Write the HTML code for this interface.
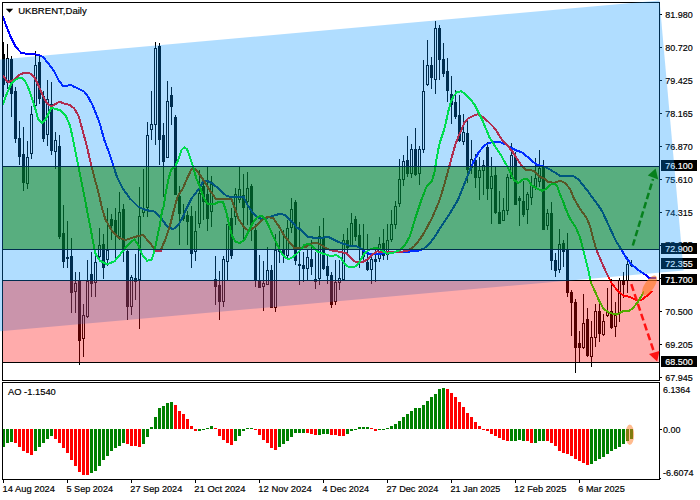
<!DOCTYPE html><html><head><meta charset="utf-8"><title>UKBRENT Daily</title>
<style>html,body{margin:0;padding:0;background:#fff;}body{width:700px;height:500px;overflow:hidden;font-family:"Liberation Sans",sans-serif;}svg{display:block}text{font-family:"Liberation Sans",sans-serif;}</style></head><body>
<svg width="700" height="500" viewBox="0 0 700 500">
<rect width="700" height="500" fill="#fff"/>
<g shape-rendering="crispEdges">
<rect x="3" y="42" width="1" height="55" fill="#000"/>
<rect x="2" y="54" width="3" height="31" fill="#000"/>
<rect x="7" y="44" width="1" height="45" fill="#000"/>
<rect x="6" y="58" width="3" height="25" fill="#000"/>
<rect x="7" y="59" width="1" height="23" fill="#fff"/>
<rect x="11" y="56" width="1" height="61" fill="#000"/>
<rect x="10" y="59" width="3" height="35" fill="#000"/>
<rect x="15" y="87" width="1" height="56" fill="#000"/>
<rect x="14" y="91" width="3" height="48" fill="#000"/>
<rect x="19" y="121" width="1" height="44" fill="#000"/>
<rect x="18" y="138" width="3" height="19" fill="#000"/>
<rect x="23" y="127" width="1" height="64" fill="#000"/>
<rect x="22" y="154" width="3" height="29" fill="#000"/>
<rect x="27" y="141" width="1" height="48" fill="#000"/>
<rect x="26" y="157" width="3" height="27" fill="#000"/>
<rect x="27" y="158" width="1" height="25" fill="#fff"/>
<rect x="31" y="106" width="1" height="53" fill="#000"/>
<rect x="30" y="114" width="3" height="40" fill="#000"/>
<rect x="31" y="115" width="1" height="38" fill="#fff"/>
<rect x="35" y="51" width="1" height="56" fill="#000"/>
<rect x="34" y="65" width="3" height="41" fill="#000"/>
<rect x="35" y="66" width="1" height="39" fill="#fff"/>
<rect x="39" y="56" width="1" height="48" fill="#000"/>
<rect x="38" y="62" width="3" height="37" fill="#000"/>
<rect x="43" y="91" width="1" height="51" fill="#000"/>
<rect x="42" y="96" width="3" height="43" fill="#000"/>
<rect x="47" y="80" width="1" height="66" fill="#000"/>
<rect x="46" y="99" width="3" height="36" fill="#000"/>
<rect x="47" y="100" width="1" height="34" fill="#fff"/>
<rect x="51" y="82" width="1" height="73" fill="#000"/>
<rect x="50" y="104" width="3" height="47" fill="#000"/>
<rect x="55" y="132" width="1" height="37" fill="#000"/>
<rect x="54" y="140" width="3" height="12" fill="#000"/>
<rect x="55" y="141" width="1" height="10" fill="#fff"/>
<rect x="59" y="135" width="1" height="104" fill="#000"/>
<rect x="58" y="146" width="3" height="91" fill="#000"/>
<rect x="63" y="205" width="1" height="63" fill="#000"/>
<rect x="62" y="233" width="3" height="29" fill="#000"/>
<rect x="67" y="221" width="1" height="47" fill="#000"/>
<rect x="66" y="257" width="3" height="2" fill="#000"/>
<rect x="71" y="238" width="1" height="75" fill="#000"/>
<rect x="70" y="256" width="3" height="37" fill="#000"/>
<rect x="75" y="272" width="1" height="41" fill="#000"/>
<rect x="74" y="283" width="3" height="9" fill="#000"/>
<rect x="75" y="284" width="1" height="7" fill="#fff"/>
<rect x="79" y="272" width="1" height="93" fill="#000"/>
<rect x="78" y="281" width="3" height="60" fill="#000"/>
<rect x="83" y="304" width="1" height="53" fill="#000"/>
<rect x="82" y="315" width="3" height="24" fill="#000"/>
<rect x="83" y="316" width="1" height="22" fill="#fff"/>
<rect x="87" y="260" width="1" height="58" fill="#000"/>
<rect x="86" y="281" width="3" height="36" fill="#000"/>
<rect x="87" y="282" width="1" height="34" fill="#fff"/>
<rect x="91" y="252" width="1" height="45" fill="#000"/>
<rect x="90" y="274" width="3" height="10" fill="#000"/>
<rect x="95" y="255" width="1" height="42" fill="#000"/>
<rect x="94" y="262" width="3" height="21" fill="#000"/>
<rect x="95" y="263" width="1" height="19" fill="#fff"/>
<rect x="99" y="228" width="1" height="30" fill="#000"/>
<rect x="98" y="245" width="3" height="12" fill="#000"/>
<rect x="99" y="246" width="1" height="10" fill="#fff"/>
<rect x="103" y="234" width="1" height="45" fill="#000"/>
<rect x="102" y="244" width="3" height="24" fill="#000"/>
<rect x="107" y="208" width="1" height="58" fill="#000"/>
<rect x="106" y="250" width="3" height="10" fill="#000"/>
<rect x="107" y="251" width="1" height="8" fill="#fff"/>
<rect x="111" y="214" width="1" height="26" fill="#000"/>
<rect x="110" y="219" width="3" height="7" fill="#000"/>
<rect x="115" y="208" width="1" height="51" fill="#000"/>
<rect x="114" y="220" width="3" height="14" fill="#000"/>
<rect x="119" y="192" width="1" height="48" fill="#000"/>
<rect x="118" y="212" width="3" height="25" fill="#000"/>
<rect x="119" y="213" width="1" height="23" fill="#fff"/>
<rect x="123" y="204" width="1" height="58" fill="#000"/>
<rect x="122" y="209" width="3" height="41" fill="#000"/>
<rect x="127" y="249" width="1" height="71" fill="#000"/>
<rect x="126" y="251" width="3" height="56" fill="#000"/>
<rect x="131" y="275" width="1" height="40" fill="#000"/>
<rect x="130" y="277" width="3" height="30" fill="#000"/>
<rect x="131" y="278" width="1" height="28" fill="#fff"/>
<rect x="135" y="254" width="1" height="46" fill="#000"/>
<rect x="134" y="278" width="3" height="4" fill="#000"/>
<rect x="139" y="187" width="1" height="142" fill="#000"/>
<rect x="138" y="216" width="3" height="64" fill="#000"/>
<rect x="139" y="217" width="1" height="62" fill="#fff"/>
<rect x="143" y="169" width="1" height="48" fill="#000"/>
<rect x="142" y="209" width="3" height="4" fill="#000"/>
<rect x="143" y="210" width="1" height="2" fill="#fff"/>
<rect x="147" y="122" width="1" height="95" fill="#000"/>
<rect x="146" y="135" width="3" height="73" fill="#000"/>
<rect x="147" y="136" width="1" height="71" fill="#fff"/>
<rect x="151" y="91" width="1" height="49" fill="#000"/>
<rect x="150" y="124" width="3" height="6" fill="#000"/>
<rect x="151" y="125" width="1" height="4" fill="#fff"/>
<rect x="155" y="42" width="1" height="103" fill="#000"/>
<rect x="154" y="48" width="3" height="77" fill="#000"/>
<rect x="155" y="49" width="1" height="75" fill="#fff"/>
<rect x="159" y="43" width="1" height="122" fill="#000"/>
<rect x="158" y="46" width="3" height="94" fill="#000"/>
<rect x="163" y="123" width="1" height="74" fill="#000"/>
<rect x="162" y="135" width="3" height="27" fill="#000"/>
<rect x="167" y="81" width="1" height="77" fill="#000"/>
<rect x="166" y="101" width="3" height="57" fill="#000"/>
<rect x="167" y="102" width="1" height="55" fill="#fff"/>
<rect x="171" y="87" width="1" height="38" fill="#000"/>
<rect x="170" y="95" width="3" height="12" fill="#000"/>
<rect x="175" y="115" width="1" height="80" fill="#000"/>
<rect x="174" y="117" width="3" height="78" fill="#000"/>
<rect x="179" y="186" width="1" height="59" fill="#000"/>
<rect x="178" y="196" width="3" height="18" fill="#000"/>
<rect x="183" y="204" width="1" height="17" fill="#000"/>
<rect x="182" y="215" width="3" height="4" fill="#000"/>
<rect x="187" y="211" width="1" height="34" fill="#000"/>
<rect x="186" y="215" width="3" height="7" fill="#000"/>
<rect x="191" y="206" width="1" height="62" fill="#000"/>
<rect x="190" y="216" width="3" height="38" fill="#000"/>
<rect x="195" y="211" width="1" height="50" fill="#000"/>
<rect x="194" y="231" width="3" height="21" fill="#000"/>
<rect x="195" y="232" width="1" height="19" fill="#fff"/>
<rect x="199" y="170" width="1" height="58" fill="#000"/>
<rect x="198" y="193" width="3" height="31" fill="#000"/>
<rect x="199" y="194" width="1" height="29" fill="#fff"/>
<rect x="203" y="182" width="1" height="38" fill="#000"/>
<rect x="202" y="186" width="3" height="16" fill="#000"/>
<rect x="207" y="167" width="1" height="64" fill="#000"/>
<rect x="206" y="194" width="3" height="25" fill="#000"/>
<rect x="211" y="176" width="1" height="51" fill="#000"/>
<rect x="210" y="184" width="3" height="28" fill="#000"/>
<rect x="211" y="185" width="1" height="26" fill="#fff"/>
<rect x="215" y="256" width="1" height="49" fill="#000"/>
<rect x="214" y="279" width="3" height="8" fill="#000"/>
<rect x="219" y="271" width="1" height="49" fill="#000"/>
<rect x="218" y="285" width="3" height="17" fill="#000"/>
<rect x="223" y="256" width="1" height="51" fill="#000"/>
<rect x="222" y="259" width="3" height="43" fill="#000"/>
<rect x="223" y="260" width="1" height="41" fill="#fff"/>
<rect x="227" y="224" width="1" height="57" fill="#000"/>
<rect x="226" y="224" width="3" height="38" fill="#000"/>
<rect x="227" y="225" width="1" height="36" fill="#fff"/>
<rect x="231" y="208" width="1" height="51" fill="#000"/>
<rect x="230" y="218" width="3" height="38" fill="#000"/>
<rect x="235" y="188" width="1" height="37" fill="#000"/>
<rect x="234" y="194" width="3" height="23" fill="#000"/>
<rect x="235" y="195" width="1" height="21" fill="#fff"/>
<rect x="239" y="167" width="1" height="36" fill="#000"/>
<rect x="238" y="189" width="3" height="11" fill="#000"/>
<rect x="239" y="190" width="1" height="9" fill="#fff"/>
<rect x="243" y="174" width="1" height="66" fill="#000"/>
<rect x="242" y="195" width="3" height="13" fill="#000"/>
<rect x="247" y="172" width="1" height="53" fill="#000"/>
<rect x="246" y="188" width="3" height="14" fill="#000"/>
<rect x="247" y="189" width="1" height="12" fill="#fff"/>
<rect x="251" y="184" width="1" height="57" fill="#000"/>
<rect x="250" y="186" width="3" height="39" fill="#000"/>
<rect x="255" y="224" width="1" height="63" fill="#000"/>
<rect x="254" y="230" width="3" height="51" fill="#000"/>
<rect x="259" y="255" width="1" height="33" fill="#000"/>
<rect x="258" y="281" width="3" height="7" fill="#000"/>
<rect x="263" y="261" width="1" height="50" fill="#000"/>
<rect x="262" y="283" width="3" height="4" fill="#000"/>
<rect x="263" y="284" width="1" height="2" fill="#fff"/>
<rect x="267" y="247" width="1" height="38" fill="#000"/>
<rect x="266" y="270" width="3" height="15" fill="#000"/>
<rect x="267" y="271" width="1" height="13" fill="#fff"/>
<rect x="271" y="265" width="1" height="43" fill="#000"/>
<rect x="270" y="270" width="3" height="38" fill="#000"/>
<rect x="275" y="234" width="1" height="78" fill="#000"/>
<rect x="274" y="250" width="3" height="58" fill="#000"/>
<rect x="275" y="251" width="1" height="56" fill="#fff"/>
<rect x="279" y="231" width="1" height="32" fill="#000"/>
<rect x="278" y="250" width="3" height="2" fill="#000"/>
<rect x="283" y="230" width="1" height="33" fill="#000"/>
<rect x="282" y="250" width="3" height="6" fill="#000"/>
<rect x="287" y="220" width="1" height="39" fill="#000"/>
<rect x="286" y="228" width="3" height="28" fill="#000"/>
<rect x="287" y="229" width="1" height="26" fill="#fff"/>
<rect x="291" y="198" width="1" height="35" fill="#000"/>
<rect x="290" y="209" width="3" height="19" fill="#000"/>
<rect x="291" y="210" width="1" height="17" fill="#fff"/>
<rect x="295" y="200" width="1" height="65" fill="#000"/>
<rect x="294" y="202" width="3" height="59" fill="#000"/>
<rect x="299" y="222" width="1" height="63" fill="#000"/>
<rect x="298" y="264" width="3" height="2" fill="#000"/>
<rect x="303" y="252" width="1" height="30" fill="#000"/>
<rect x="302" y="265" width="3" height="4" fill="#000"/>
<rect x="307" y="249" width="1" height="31" fill="#000"/>
<rect x="306" y="257" width="3" height="12" fill="#000"/>
<rect x="307" y="258" width="1" height="10" fill="#fff"/>
<rect x="311" y="240" width="1" height="35" fill="#000"/>
<rect x="310" y="259" width="3" height="8" fill="#000"/>
<rect x="315" y="252" width="1" height="37" fill="#000"/>
<rect x="314" y="279" width="3" height="3" fill="#000"/>
<rect x="319" y="226" width="1" height="59" fill="#000"/>
<rect x="318" y="236" width="3" height="43" fill="#000"/>
<rect x="319" y="237" width="1" height="41" fill="#fff"/>
<rect x="323" y="218" width="1" height="52" fill="#000"/>
<rect x="322" y="237" width="3" height="32" fill="#000"/>
<rect x="327" y="254" width="1" height="30" fill="#000"/>
<rect x="326" y="266" width="3" height="10" fill="#000"/>
<rect x="331" y="272" width="1" height="36" fill="#000"/>
<rect x="330" y="275" width="3" height="30" fill="#000"/>
<rect x="335" y="260" width="1" height="45" fill="#000"/>
<rect x="334" y="282" width="3" height="20" fill="#000"/>
<rect x="335" y="283" width="1" height="18" fill="#fff"/>
<rect x="339" y="260" width="1" height="30" fill="#000"/>
<rect x="338" y="278" width="3" height="5" fill="#000"/>
<rect x="339" y="279" width="1" height="3" fill="#fff"/>
<rect x="343" y="234" width="1" height="46" fill="#000"/>
<rect x="342" y="240" width="3" height="40" fill="#000"/>
<rect x="343" y="241" width="1" height="38" fill="#fff"/>
<rect x="347" y="228" width="1" height="27" fill="#000"/>
<rect x="346" y="240" width="3" height="8" fill="#000"/>
<rect x="351" y="213" width="1" height="34" fill="#000"/>
<rect x="350" y="223" width="3" height="24" fill="#000"/>
<rect x="351" y="224" width="1" height="22" fill="#fff"/>
<rect x="355" y="216" width="1" height="25" fill="#000"/>
<rect x="354" y="219" width="3" height="18" fill="#000"/>
<rect x="359" y="224" width="1" height="44" fill="#000"/>
<rect x="358" y="235" width="3" height="13" fill="#000"/>
<rect x="363" y="224" width="1" height="39" fill="#000"/>
<rect x="362" y="250" width="3" height="7" fill="#000"/>
<rect x="367" y="234" width="1" height="37" fill="#000"/>
<rect x="366" y="262" width="3" height="8" fill="#000"/>
<rect x="371" y="254" width="1" height="30" fill="#000"/>
<rect x="370" y="259" width="3" height="11" fill="#000"/>
<rect x="371" y="260" width="1" height="9" fill="#fff"/>
<rect x="375" y="247" width="1" height="35" fill="#000"/>
<rect x="374" y="259" width="3" height="3" fill="#000"/>
<rect x="379" y="237" width="1" height="25" fill="#000"/>
<rect x="378" y="244" width="3" height="15" fill="#000"/>
<rect x="379" y="245" width="1" height="13" fill="#fff"/>
<rect x="383" y="229" width="1" height="31" fill="#000"/>
<rect x="382" y="243" width="3" height="13" fill="#000"/>
<rect x="387" y="224" width="1" height="36" fill="#000"/>
<rect x="386" y="240" width="3" height="15" fill="#000"/>
<rect x="387" y="241" width="1" height="13" fill="#fff"/>
<rect x="391" y="210" width="1" height="32" fill="#000"/>
<rect x="390" y="224" width="3" height="16" fill="#000"/>
<rect x="391" y="225" width="1" height="14" fill="#fff"/>
<rect x="395" y="201" width="1" height="28" fill="#000"/>
<rect x="394" y="206" width="3" height="19" fill="#000"/>
<rect x="395" y="207" width="1" height="17" fill="#fff"/>
<rect x="399" y="159" width="1" height="48" fill="#000"/>
<rect x="398" y="179" width="3" height="25" fill="#000"/>
<rect x="399" y="180" width="1" height="23" fill="#fff"/>
<rect x="403" y="155" width="1" height="31" fill="#000"/>
<rect x="402" y="161" width="3" height="19" fill="#000"/>
<rect x="403" y="162" width="1" height="17" fill="#fff"/>
<rect x="407" y="136" width="1" height="41" fill="#000"/>
<rect x="406" y="160" width="3" height="14" fill="#000"/>
<rect x="411" y="144" width="1" height="34" fill="#000"/>
<rect x="410" y="149" width="3" height="25" fill="#000"/>
<rect x="411" y="150" width="1" height="23" fill="#fff"/>
<rect x="415" y="128" width="1" height="48" fill="#000"/>
<rect x="414" y="149" width="3" height="26" fill="#000"/>
<rect x="419" y="146" width="1" height="39" fill="#000"/>
<rect x="418" y="149" width="3" height="25" fill="#000"/>
<rect x="419" y="150" width="1" height="23" fill="#fff"/>
<rect x="423" y="60" width="1" height="93" fill="#000"/>
<rect x="422" y="91" width="3" height="59" fill="#000"/>
<rect x="423" y="92" width="1" height="57" fill="#fff"/>
<rect x="427" y="40" width="1" height="46" fill="#000"/>
<rect x="426" y="65" width="3" height="20" fill="#000"/>
<rect x="427" y="66" width="1" height="18" fill="#fff"/>
<rect x="431" y="57" width="1" height="32" fill="#000"/>
<rect x="430" y="65" width="3" height="13" fill="#000"/>
<rect x="435" y="21" width="1" height="73" fill="#000"/>
<rect x="434" y="28" width="3" height="52" fill="#000"/>
<rect x="435" y="29" width="1" height="50" fill="#fff"/>
<rect x="439" y="25" width="1" height="55" fill="#000"/>
<rect x="438" y="28" width="3" height="32" fill="#000"/>
<rect x="443" y="43" width="1" height="34" fill="#000"/>
<rect x="442" y="59" width="3" height="15" fill="#000"/>
<rect x="447" y="58" width="1" height="44" fill="#000"/>
<rect x="446" y="71" width="3" height="20" fill="#000"/>
<rect x="451" y="76" width="1" height="48" fill="#000"/>
<rect x="450" y="94" width="3" height="11" fill="#000"/>
<rect x="455" y="90" width="1" height="29" fill="#000"/>
<rect x="454" y="102" width="3" height="15" fill="#000"/>
<rect x="459" y="95" width="1" height="47" fill="#000"/>
<rect x="458" y="115" width="3" height="26" fill="#000"/>
<rect x="463" y="114" width="1" height="31" fill="#000"/>
<rect x="462" y="132" width="3" height="10" fill="#000"/>
<rect x="463" y="133" width="1" height="8" fill="#fff"/>
<rect x="467" y="120" width="1" height="63" fill="#000"/>
<rect x="466" y="133" width="3" height="37" fill="#000"/>
<rect x="471" y="140" width="1" height="34" fill="#000"/>
<rect x="470" y="159" width="3" height="9" fill="#000"/>
<rect x="471" y="160" width="1" height="7" fill="#fff"/>
<rect x="475" y="154" width="1" height="34" fill="#000"/>
<rect x="474" y="160" width="3" height="18" fill="#000"/>
<rect x="479" y="157" width="1" height="43" fill="#000"/>
<rect x="478" y="170" width="3" height="8" fill="#000"/>
<rect x="479" y="171" width="1" height="6" fill="#fff"/>
<rect x="483" y="160" width="1" height="35" fill="#000"/>
<rect x="482" y="165" width="3" height="6" fill="#000"/>
<rect x="483" y="166" width="1" height="4" fill="#fff"/>
<rect x="487" y="142" width="1" height="58" fill="#000"/>
<rect x="486" y="147" width="3" height="42" fill="#000"/>
<rect x="491" y="157" width="1" height="67" fill="#000"/>
<rect x="490" y="176" width="3" height="13" fill="#000"/>
<rect x="491" y="177" width="1" height="11" fill="#fff"/>
<rect x="495" y="167" width="1" height="47" fill="#000"/>
<rect x="494" y="175" width="3" height="38" fill="#000"/>
<rect x="499" y="191" width="1" height="33" fill="#000"/>
<rect x="498" y="212" width="3" height="12" fill="#000"/>
<rect x="503" y="198" width="1" height="23" fill="#000"/>
<rect x="502" y="210" width="3" height="11" fill="#000"/>
<rect x="503" y="211" width="1" height="9" fill="#fff"/>
<rect x="507" y="174" width="1" height="41" fill="#000"/>
<rect x="506" y="177" width="3" height="34" fill="#000"/>
<rect x="507" y="178" width="1" height="32" fill="#fff"/>
<rect x="511" y="143" width="1" height="36" fill="#000"/>
<rect x="510" y="155" width="3" height="24" fill="#000"/>
<rect x="511" y="156" width="1" height="22" fill="#fff"/>
<rect x="515" y="152" width="1" height="53" fill="#000"/>
<rect x="514" y="156" width="3" height="49" fill="#000"/>
<rect x="519" y="196" width="1" height="30" fill="#000"/>
<rect x="518" y="198" width="3" height="3" fill="#000"/>
<rect x="523" y="181" width="1" height="36" fill="#000"/>
<rect x="522" y="201" width="3" height="14" fill="#000"/>
<rect x="527" y="192" width="1" height="32" fill="#000"/>
<rect x="526" y="194" width="3" height="16" fill="#000"/>
<rect x="527" y="195" width="1" height="14" fill="#fff"/>
<rect x="531" y="176" width="1" height="29" fill="#000"/>
<rect x="530" y="185" width="3" height="13" fill="#000"/>
<rect x="531" y="186" width="1" height="11" fill="#fff"/>
<rect x="535" y="158" width="1" height="32" fill="#000"/>
<rect x="534" y="178" width="3" height="10" fill="#000"/>
<rect x="535" y="179" width="1" height="8" fill="#fff"/>
<rect x="539" y="150" width="1" height="37" fill="#000"/>
<rect x="538" y="168" width="3" height="14" fill="#000"/>
<rect x="539" y="169" width="1" height="12" fill="#fff"/>
<rect x="543" y="160" width="1" height="70" fill="#000"/>
<rect x="542" y="166" width="3" height="64" fill="#000"/>
<rect x="547" y="209" width="1" height="21" fill="#000"/>
<rect x="546" y="213" width="3" height="13" fill="#000"/>
<rect x="547" y="214" width="1" height="11" fill="#fff"/>
<rect x="551" y="202" width="1" height="68" fill="#000"/>
<rect x="550" y="213" width="3" height="48" fill="#000"/>
<rect x="555" y="253" width="1" height="24" fill="#000"/>
<rect x="554" y="260" width="3" height="11" fill="#000"/>
<rect x="559" y="229" width="1" height="44" fill="#000"/>
<rect x="558" y="244" width="3" height="26" fill="#000"/>
<rect x="559" y="245" width="1" height="24" fill="#fff"/>
<rect x="563" y="240" width="1" height="27" fill="#000"/>
<rect x="562" y="243" width="3" height="9" fill="#000"/>
<rect x="567" y="233" width="1" height="64" fill="#000"/>
<rect x="566" y="249" width="3" height="44" fill="#000"/>
<rect x="571" y="290" width="1" height="46" fill="#000"/>
<rect x="570" y="292" width="3" height="11" fill="#000"/>
<rect x="575" y="299" width="1" height="74" fill="#000"/>
<rect x="574" y="302" width="3" height="46" fill="#000"/>
<rect x="579" y="331" width="1" height="32" fill="#000"/>
<rect x="578" y="343" width="3" height="5" fill="#000"/>
<rect x="583" y="294" width="1" height="55" fill="#000"/>
<rect x="582" y="323" width="3" height="25" fill="#000"/>
<rect x="583" y="324" width="1" height="23" fill="#fff"/>
<rect x="587" y="308" width="1" height="49" fill="#000"/>
<rect x="586" y="319" width="3" height="37" fill="#000"/>
<rect x="591" y="321" width="1" height="46" fill="#000"/>
<rect x="590" y="337" width="3" height="20" fill="#000"/>
<rect x="591" y="338" width="1" height="18" fill="#fff"/>
<rect x="595" y="304" width="1" height="43" fill="#000"/>
<rect x="594" y="311" width="3" height="27" fill="#000"/>
<rect x="595" y="312" width="1" height="25" fill="#fff"/>
<rect x="599" y="302" width="1" height="40" fill="#000"/>
<rect x="598" y="311" width="3" height="23" fill="#000"/>
<rect x="603" y="314" width="1" height="22" fill="#000"/>
<rect x="602" y="321" width="3" height="14" fill="#000"/>
<rect x="603" y="322" width="1" height="12" fill="#fff"/>
<rect x="607" y="288" width="1" height="29" fill="#000"/>
<rect x="606" y="311" width="3" height="5" fill="#000"/>
<rect x="607" y="312" width="1" height="3" fill="#fff"/>
<rect x="611" y="279" width="1" height="50" fill="#000"/>
<rect x="610" y="311" width="3" height="17" fill="#000"/>
<rect x="615" y="302" width="1" height="35" fill="#000"/>
<rect x="614" y="315" width="3" height="12" fill="#000"/>
<rect x="615" y="316" width="1" height="10" fill="#fff"/>
<rect x="619" y="278" width="1" height="44" fill="#000"/>
<rect x="618" y="280" width="3" height="34" fill="#000"/>
<rect x="619" y="281" width="1" height="32" fill="#fff"/>
<rect x="623" y="272" width="1" height="26" fill="#000"/>
<rect x="622" y="280" width="3" height="5" fill="#000"/>
<rect x="627" y="257" width="1" height="36" fill="#000"/>
<rect x="626" y="264" width="3" height="17" fill="#000"/>
<rect x="627" y="265" width="1" height="15" fill="#fff"/>
<rect x="631" y="260" width="1" height="7" fill="#000"/>
<rect x="630" y="264" width="3" height="2" fill="#000"/>
</g>
<clipPath id="mc"><rect x="3" y="3" width="656" height="377"/></clipPath>
<g clip-path="url(#mc)">
<polyline points="3,17 5.7,24.3 10.7,37 15.7,47 21.4,53 28.6,54 38.6,54.7 42.9,57 48.6,63.6 54.3,71.4 58.6,80 61,83.5 63,86 67.5,86 69,84.7 71,84.7 73.5,86.5 78,88.5 84.3,91.6 88,96.5 90,100.5 92.5,105 95.7,112.9 98.6,120 100,124.3 104.3,140 108.6,151.4 112.9,164.3 117,177 122.9,188.6 130,198.6 138.6,207 145.7,210 155,211.7 161.4,218.3 167,226.4 172.9,229.3 177.9,225.7 182.9,217 185.7,210 191.4,198.6 200,187.5 202.9,182 207,180.7 211.4,182.9 218.6,188.6 227,196.4 235.7,196.9 243.6,196.9 247,204.3 252.9,212.9 257,217 261.4,218.8 267,217.9 274.3,215.3 281.4,213.6 285.7,215.7 291.4,221 297,227.9 300,229.3 307,236.4 314.3,237.9 321.4,237.9 328.6,236.9 335.7,240.7 342.9,243.6 350,245.7 357,246.4 361.4,248.6 364.3,251.4 368.6,253.6 374.3,254.3 380,253.8 385.7,253 391.4,252.5 400,252 410,251.5 418,251 424,248.5 430,243 436,235 440,228 447,218 452.5,209 457.9,200 463.6,185.7 469.3,171.4 473.6,161.4 479.3,151.4 485,145 489.3,142.9 492.7,142 499.9,142 505.6,144.3 511.3,147.9 517,150.7 521.3,152 527,156.4 532.7,161.4 537,165 544,166.4 548.4,168.6 554,172 559.9,175.7 567,176 572.7,175.7 578.4,179.3 584,186.4 587,190 592,197 597,203.5 602,211 608.5,225 615.4,240 621,249.1 626.6,258.6 630,262.6 634,266.6 640.4,271.5 645.6,274.8 648.8,277.7 651,278.4 655.3,278.4" fill="none" stroke="#0000ff" stroke-width="2" stroke-linejoin="round" stroke-linecap="round" shape-rendering="crispEdges"/>
<polyline points="3,76 7.9,82 14.3,80 18.6,75 24.3,72.9 29.3,72.9 34.3,77 38.6,85.7 42.9,95.7 47,103.6 51.4,106.4 55,104.3 59.3,101.7 64.3,103.6 70,105 74.3,108.6 78.6,116 82.9,131.4 87,147 91.4,165.7 95,180 97,187 100,199.3 102.9,211.4 105.7,220 111.4,230 118.6,237.9 125.7,240 134.3,237 142.9,235 148.6,241.4 154.3,248.6 156,251 160.7,251 161.4,248.6 165.7,238.6 170,225.7 174.3,208.5 177.9,195.7 182.9,188.6 187,178.6 191.4,169.3 195,168.6 200,175 204.3,181.4 210,190.7 215.7,198.6 222.9,199.3 231.4,199.3 234.3,207 238.6,219 240,221.4 245.7,229.3 250,230 255.7,226.4 261.4,220.7 267,217 272.9,217.9 278.6,225.7 284.3,235.7 290,242.9 294.3,247.9 300,248 305.7,247 311.4,243.6 315.7,242.6 321.4,245 326.4,248.6 332.9,250.7 341.4,252 347,253.6 351.4,258.6 355.7,262 360,262 364.3,261.4 368.6,258.6 372.9,254.3 377,251.4 385.7,252.4 392.9,252.4 400,252 408,250.5 414,246.5 419,240.5 424,233 432,218 439.3,201 443.6,187 447.9,171.4 451.4,158.6 455,145.7 458.6,135.7 461.4,130 464.3,122.9 467.9,118.6 473.6,115.7 477.9,114.3 482,116.4 487.9,121.4 495,128.6 502,140 507,145 512.7,152 517,158.6 522,166.4 525.6,170 534,170.7 539,176.4 544,178.6 548.4,182 554,182.9 559.9,180.7 564.9,182.9 569.9,188.6 574,198.6 579.9,208.6 587,218.6 590,226 593,238 596.4,250 600,258.4 604.2,268 608.4,277 612.6,284.8 618.2,291.1 623.8,296 629.4,296.7 635,299.5 637.8,300.9 642,299.5 647.6,295.3 651.8,291.5" fill="none" stroke="#ff0000" stroke-width="2" stroke-linejoin="round" stroke-linecap="round" shape-rendering="crispEdges"/>
<polyline points="3,104 7,93 11.4,83.6 17,78.6 21.4,77.9 25,80.7 28.6,88.6 32,98.6 35.7,110 37.9,118.6 42,123.6 45.7,119.3 49.3,112 51.4,107.9 55.7,108.9 60.7,110.5 65.7,115.7 70,125.7 72.9,138.6 75.7,152.9 78.6,167 82.9,188.6 87,210 91.4,232.9 92.9,241.5 95.7,254.3 100,260.7 107,264.3 114.3,261.4 121.4,252.9 127,245.7 134.3,239.3 138.6,245.7 142,254.3 147,260.7 151.4,260 154.3,251.4 157,238.6 160,224.3 162.2,210 163.6,207 165.7,192.9 168.6,178.6 171.4,169.3 175,167 178.6,159 181.4,150 184.3,147.4 187,149.3 190,157 193.6,168.6 196.4,178.6 200,187 202.9,195.7 207,203.6 214.3,204 218.6,202 222.9,201.7 225.7,210 228.6,222 232,235.7 235.7,242 240,242.9 244.3,240 248.6,231.4 252.9,222.9 257,217.4 261.4,215.7 265,218.6 268.6,225.7 272.9,235.7 277,244.3 281.4,252.9 285.7,257.9 288.6,259.3 292.9,257 297,253.6 300,250.4 304.3,245 308.6,243.6 312.9,247 317,251.4 322.9,253.6 330,255.7 337,255.4 341.4,258.6 344.3,263.6 348.6,267 354.3,267 358.6,263.6 361.4,258.6 364.3,253.5 367.9,250.7 371.4,248.9 377,247.9 381.4,250 387,253.6 392.9,252.9 400,250 405,245 410,236 416,216 421.4,200 426.4,187 432,180.7 434.3,172.9 436.4,160 439.3,144.3 442,136 444.3,129 446,122 448,112.5 450.5,102.8 453.6,96 457,92.3 460.7,91.2 465,93.6 469.3,97.9 474.3,104.3 478.6,112.9 482.9,121.4 486.4,130 489.3,137 491.3,140 495.6,147 501.3,155.7 505.6,163.6 509.9,171.4 514,180 518.4,182.9 523.4,179.3 527.7,179.3 531.3,185 537,188.6 542,190.7 545.6,189.3 549.9,185 554,183.6 557,185.7 559.9,194.3 563,201 565.6,208.6 569.9,218.6 575.6,227 579.9,237 582.8,248.5 585.7,260 588.6,271.4 590.7,282 595,291.4 599.3,301.4 603.6,308.6 607.9,312 612,313.6 616.4,314.6 620,313 624,310.5 629,311 633,308 637,303 640,298.6 643.4,292.5" fill="none" stroke="#00ff00" stroke-width="2" stroke-linejoin="round" stroke-linecap="round" shape-rendering="crispEdges"/>
</g>
<g shape-rendering="crispEdges">
<rect x="2" y="429" width="3" height="18" fill="#008000"/>
<rect x="6" y="429" width="3" height="14" fill="#008000"/>
<rect x="10" y="429" width="3" height="13" fill="#008000"/>
<rect x="14" y="429" width="3" height="14" fill="#ff0000"/>
<rect x="18" y="429" width="3" height="18" fill="#ff0000"/>
<rect x="22" y="429" width="3" height="22" fill="#ff0000"/>
<rect x="26" y="429" width="3" height="24" fill="#ff0000"/>
<rect x="30" y="429" width="3" height="26" fill="#ff0000"/>
<rect x="34" y="429" width="3" height="22" fill="#008000"/>
<rect x="38" y="429" width="3" height="18" fill="#008000"/>
<rect x="42" y="429" width="3" height="14" fill="#008000"/>
<rect x="46" y="429" width="3" height="10" fill="#008000"/>
<rect x="50" y="429" width="3" height="7" fill="#008000"/>
<rect x="54" y="429" width="3" height="10" fill="#ff0000"/>
<rect x="58" y="429" width="3" height="14" fill="#ff0000"/>
<rect x="62" y="429" width="3" height="19" fill="#ff0000"/>
<rect x="66" y="429" width="3" height="24" fill="#ff0000"/>
<rect x="70" y="429" width="3" height="31" fill="#ff0000"/>
<rect x="74" y="429" width="3" height="37" fill="#ff0000"/>
<rect x="78" y="429" width="3" height="43" fill="#ff0000"/>
<rect x="82" y="429" width="3" height="46" fill="#ff0000"/>
<rect x="86" y="429" width="3" height="46" fill="#ff0000"/>
<rect x="90" y="429" width="3" height="44" fill="#008000"/>
<rect x="94" y="429" width="3" height="42" fill="#008000"/>
<rect x="98" y="429" width="3" height="37" fill="#008000"/>
<rect x="102" y="429" width="3" height="31" fill="#008000"/>
<rect x="106" y="429" width="3" height="27" fill="#008000"/>
<rect x="110" y="429" width="3" height="22" fill="#008000"/>
<rect x="114" y="429" width="3" height="19" fill="#008000"/>
<rect x="118" y="429" width="3" height="17" fill="#008000"/>
<rect x="122" y="429" width="3" height="14" fill="#008000"/>
<rect x="126" y="429" width="3" height="15" fill="#ff0000"/>
<rect x="130" y="429" width="3" height="17" fill="#ff0000"/>
<rect x="134" y="429" width="3" height="17" fill="#ff0000"/>
<rect x="138" y="429" width="3" height="18" fill="#ff0000"/>
<rect x="142" y="429" width="3" height="15" fill="#008000"/>
<rect x="146" y="429" width="3" height="8" fill="#008000"/>
<rect x="150" y="427" width="3" height="2" fill="#008000"/>
<rect x="154" y="417" width="3" height="12" fill="#008000"/>
<rect x="158" y="408" width="3" height="21" fill="#008000"/>
<rect x="162" y="406" width="3" height="23" fill="#008000"/>
<rect x="166" y="403" width="3" height="26" fill="#008000"/>
<rect x="170" y="402" width="3" height="27" fill="#008000"/>
<rect x="174" y="405" width="3" height="24" fill="#ff0000"/>
<rect x="178" y="411" width="3" height="18" fill="#ff0000"/>
<rect x="182" y="414" width="3" height="15" fill="#ff0000"/>
<rect x="186" y="419" width="3" height="10" fill="#ff0000"/>
<rect x="190" y="426" width="3" height="3" fill="#ff0000"/>
<rect x="194" y="429" width="3" height="2" fill="#ff0000"/>
<rect x="198" y="429" width="3" height="2" fill="#008000"/>
<rect x="202" y="429" width="3" height="1" fill="#008000"/>
<rect x="206" y="428" width="3" height="1" fill="#008000"/>
<rect x="210" y="426" width="3" height="3" fill="#008000"/>
<rect x="214" y="428" width="3" height="1" fill="#ff0000"/>
<rect x="218" y="429" width="3" height="7" fill="#ff0000"/>
<rect x="222" y="429" width="3" height="11" fill="#ff0000"/>
<rect x="226" y="429" width="3" height="14" fill="#ff0000"/>
<rect x="230" y="429" width="3" height="16" fill="#ff0000"/>
<rect x="234" y="429" width="3" height="12" fill="#008000"/>
<rect x="238" y="429" width="3" height="7" fill="#008000"/>
<rect x="242" y="429" width="3" height="2" fill="#008000"/>
<rect x="246" y="428" width="3" height="1" fill="#008000"/>
<rect x="250" y="428" width="3" height="1" fill="#008000"/>
<rect x="254" y="429" width="3" height="1" fill="#ff0000"/>
<rect x="258" y="429" width="3" height="6" fill="#ff0000"/>
<rect x="262" y="429" width="3" height="11" fill="#ff0000"/>
<rect x="266" y="429" width="3" height="14" fill="#ff0000"/>
<rect x="270" y="429" width="3" height="19" fill="#ff0000"/>
<rect x="274" y="429" width="3" height="21" fill="#ff0000"/>
<rect x="278" y="429" width="3" height="18" fill="#008000"/>
<rect x="282" y="429" width="3" height="15" fill="#008000"/>
<rect x="286" y="429" width="3" height="12" fill="#008000"/>
<rect x="290" y="429" width="3" height="8" fill="#008000"/>
<rect x="294" y="429" width="3" height="4" fill="#008000"/>
<rect x="298" y="429" width="3" height="4" fill="#008000"/>
<rect x="302" y="429" width="3" height="4" fill="#008000"/>
<rect x="306" y="429" width="3" height="4" fill="#ff0000"/>
<rect x="310" y="429" width="3" height="5" fill="#ff0000"/>
<rect x="314" y="429" width="3" height="6" fill="#ff0000"/>
<rect x="318" y="429" width="3" height="6" fill="#008000"/>
<rect x="322" y="429" width="3" height="5" fill="#008000"/>
<rect x="326" y="429" width="3" height="5" fill="#008000"/>
<rect x="330" y="429" width="3" height="6" fill="#ff0000"/>
<rect x="334" y="429" width="3" height="6" fill="#ff0000"/>
<rect x="338" y="429" width="3" height="7" fill="#ff0000"/>
<rect x="342" y="429" width="3" height="7" fill="#ff0000"/>
<rect x="346" y="429" width="3" height="5" fill="#008000"/>
<rect x="350" y="429" width="3" height="2" fill="#008000"/>
<rect x="354" y="429" width="3" height="1" fill="#008000"/>
<rect x="358" y="427" width="3" height="2" fill="#008000"/>
<rect x="362" y="427" width="3" height="2" fill="#008000"/>
<rect x="366" y="427" width="3" height="2" fill="#008000"/>
<rect x="370" y="428" width="3" height="1" fill="#ff0000"/>
<rect x="374" y="429" width="3" height="2" fill="#ff0000"/>
<rect x="378" y="429" width="3" height="1" fill="#008000"/>
<rect x="382" y="429" width="3" height="1" fill="#008000"/>
<rect x="386" y="428" width="3" height="1" fill="#008000"/>
<rect x="390" y="426" width="3" height="3" fill="#008000"/>
<rect x="394" y="424" width="3" height="5" fill="#008000"/>
<rect x="398" y="421" width="3" height="8" fill="#008000"/>
<rect x="402" y="417" width="3" height="12" fill="#008000"/>
<rect x="406" y="414" width="3" height="15" fill="#008000"/>
<rect x="410" y="411" width="3" height="18" fill="#008000"/>
<rect x="414" y="408" width="3" height="21" fill="#008000"/>
<rect x="418" y="408" width="3" height="21" fill="#008000"/>
<rect x="422" y="405" width="3" height="24" fill="#008000"/>
<rect x="426" y="401" width="3" height="28" fill="#008000"/>
<rect x="430" y="397" width="3" height="32" fill="#008000"/>
<rect x="434" y="394" width="3" height="35" fill="#008000"/>
<rect x="438" y="389" width="3" height="40" fill="#008000"/>
<rect x="442" y="388" width="3" height="41" fill="#008000"/>
<rect x="446" y="389" width="3" height="40" fill="#ff0000"/>
<rect x="450" y="393" width="3" height="36" fill="#ff0000"/>
<rect x="454" y="397" width="3" height="32" fill="#ff0000"/>
<rect x="458" y="402" width="3" height="27" fill="#ff0000"/>
<rect x="462" y="407" width="3" height="22" fill="#ff0000"/>
<rect x="466" y="413" width="3" height="16" fill="#ff0000"/>
<rect x="470" y="417" width="3" height="12" fill="#ff0000"/>
<rect x="474" y="422" width="3" height="7" fill="#ff0000"/>
<rect x="478" y="426" width="3" height="3" fill="#ff0000"/>
<rect x="482" y="429" width="3" height="1" fill="#ff0000"/>
<rect x="486" y="429" width="3" height="2" fill="#ff0000"/>
<rect x="490" y="429" width="3" height="5" fill="#ff0000"/>
<rect x="494" y="429" width="3" height="7" fill="#ff0000"/>
<rect x="498" y="429" width="3" height="9" fill="#ff0000"/>
<rect x="502" y="429" width="3" height="11" fill="#ff0000"/>
<rect x="506" y="429" width="3" height="12" fill="#ff0000"/>
<rect x="510" y="429" width="3" height="12" fill="#008000"/>
<rect x="514" y="429" width="3" height="12" fill="#008000"/>
<rect x="518" y="429" width="3" height="11" fill="#008000"/>
<rect x="522" y="429" width="3" height="12" fill="#008000"/>
<rect x="526" y="429" width="3" height="12" fill="#ff0000"/>
<rect x="530" y="429" width="3" height="14" fill="#ff0000"/>
<rect x="534" y="429" width="3" height="14" fill="#008000"/>
<rect x="538" y="429" width="3" height="12" fill="#008000"/>
<rect x="542" y="429" width="3" height="12" fill="#008000"/>
<rect x="546" y="429" width="3" height="12" fill="#ff0000"/>
<rect x="550" y="429" width="3" height="14" fill="#ff0000"/>
<rect x="554" y="429" width="3" height="17" fill="#ff0000"/>
<rect x="558" y="429" width="3" height="22" fill="#ff0000"/>
<rect x="562" y="429" width="3" height="24" fill="#ff0000"/>
<rect x="566" y="429" width="3" height="25" fill="#ff0000"/>
<rect x="570" y="429" width="3" height="27" fill="#ff0000"/>
<rect x="574" y="429" width="3" height="30" fill="#ff0000"/>
<rect x="578" y="429" width="3" height="32" fill="#ff0000"/>
<rect x="582" y="429" width="3" height="34" fill="#ff0000"/>
<rect x="586" y="429" width="3" height="36" fill="#ff0000"/>
<rect x="590" y="429" width="3" height="35" fill="#008000"/>
<rect x="594" y="429" width="3" height="32" fill="#008000"/>
<rect x="598" y="429" width="3" height="30" fill="#008000"/>
<rect x="602" y="429" width="3" height="28" fill="#008000"/>
<rect x="606" y="429" width="3" height="25" fill="#008000"/>
<rect x="610" y="429" width="3" height="22" fill="#008000"/>
<rect x="614" y="429" width="3" height="20" fill="#008000"/>
<rect x="618" y="429" width="3" height="18" fill="#008000"/>
<rect x="622" y="429" width="3" height="15" fill="#008000"/>
<rect x="626" y="429" width="3" height="12" fill="#008000"/>
<rect x="630" y="429" width="3" height="10" fill="#008000"/>
</g>
<g shape-rendering="crispEdges" fill="none" stroke="#000" stroke-width="1">
<path d="M2.5,2.5 H659.5 V380.5 H2.5 Z"/>
<path d="M2.5,382.5 H659.5 V479.5 H2.5 Z"/>
<path d="M3,166.5 H659"/>
<path d="M3,249.5 H659"/>
<path d="M3,280.5 H659"/>
<path d="M3,362.5 H659"/>
<path d="M660,14.5 H662"/>
<path d="M660,47.5 H662"/>
<path d="M660,80.5 H662"/>
<path d="M660,113.5 H662"/>
<path d="M660,146.5 H662"/>
<path d="M660,179.5 H662"/>
<path d="M660,212.5 H662"/>
<path d="M660,245.5 H662"/>
<path d="M660,278.5 H662"/>
<path d="M660,311.5 H662"/>
<path d="M660,344.5 H662"/>
<path d="M660,377.5 H662"/>
<path d="M660,429.5 H662"/>
<path d="M660,478.5 H661"/>
<path d="M3.5,480 V483"/>
<path d="M67.5,480 V483"/>
<path d="M131.5,480 V483"/>
<path d="M195.5,480 V483"/>
<path d="M259.5,480 V483"/>
<path d="M323.5,480 V483"/>
<path d="M387.5,480 V483"/>
<path d="M451.5,480 V483"/>
<path d="M515.5,480 V483"/>
<path d="M579.5,480 V483"/>
</g>
<text x="665.3" y="17.7" font-size="9.9" fill="#000" stroke="#000" stroke-width="0.18" text-anchor="start" font-weight="normal" textLength="27.5" lengthAdjust="spacingAndGlyphs">81.980</text>
<text x="665.3" y="50.7" font-size="9.9" fill="#000" stroke="#000" stroke-width="0.18" text-anchor="start" font-weight="normal" textLength="27.5" lengthAdjust="spacingAndGlyphs">80.720</text>
<text x="665.3" y="83.7" font-size="9.9" fill="#000" stroke="#000" stroke-width="0.18" text-anchor="start" font-weight="normal" textLength="27.5" lengthAdjust="spacingAndGlyphs">79.425</text>
<text x="665.3" y="116.7" font-size="9.9" fill="#000" stroke="#000" stroke-width="0.18" text-anchor="start" font-weight="normal" textLength="27.5" lengthAdjust="spacingAndGlyphs">78.165</text>
<text x="665.3" y="149.7" font-size="9.9" fill="#000" stroke="#000" stroke-width="0.18" text-anchor="start" font-weight="normal" textLength="27.5" lengthAdjust="spacingAndGlyphs">76.870</text>
<text x="665.3" y="182.7" font-size="9.9" fill="#000" stroke="#000" stroke-width="0.18" text-anchor="start" font-weight="normal" textLength="27.5" lengthAdjust="spacingAndGlyphs">75.610</text>
<text x="665.3" y="215.7" font-size="9.9" fill="#000" stroke="#000" stroke-width="0.18" text-anchor="start" font-weight="normal" textLength="27.5" lengthAdjust="spacingAndGlyphs">74.315</text>
<text x="665.3" y="247.89999999999998" font-size="9.9" fill="#000" stroke="#000" stroke-width="0.18" text-anchor="start" font-weight="normal" textLength="27.5" lengthAdjust="spacingAndGlyphs">73.055</text>
<text x="665.3" y="314.7" font-size="9.9" fill="#000" stroke="#000" stroke-width="0.18" text-anchor="start" font-weight="normal" textLength="27.5" lengthAdjust="spacingAndGlyphs">70.500</text>
<text x="665.3" y="347.7" font-size="9.9" fill="#000" stroke="#000" stroke-width="0.18" text-anchor="start" font-weight="normal" textLength="27.5" lengthAdjust="spacingAndGlyphs">69.205</text>
<text x="665.3" y="380.7" font-size="9.9" fill="#000" stroke="#000" stroke-width="0.18" text-anchor="start" font-weight="normal" textLength="27.5" lengthAdjust="spacingAndGlyphs">67.945</text>
<text x="663" y="392.7" font-size="9.9" fill="#000" stroke="#000" stroke-width="0.18" text-anchor="start" font-weight="normal" textLength="27.2" lengthAdjust="spacingAndGlyphs">6.1364</text>
<text x="663" y="432.7" font-size="9.9" fill="#000" stroke="#000" stroke-width="0.18" text-anchor="start" font-weight="normal" textLength="17.5" lengthAdjust="spacingAndGlyphs">0.00</text>
<text x="663" y="475.7" font-size="9.9" fill="#000" stroke="#000" stroke-width="0.18" text-anchor="start" font-weight="normal" textLength="30.6" lengthAdjust="spacingAndGlyphs">-6.6074</text>
<text x="2.5" y="492.2" font-size="9.6" fill="#000" stroke="#000" stroke-width="0.18" text-anchor="start" font-weight="normal" textLength="52.5" lengthAdjust="spacingAndGlyphs">14 Aug 2024</text>
<text x="66.5" y="492.2" font-size="9.6" fill="#000" stroke="#000" stroke-width="0.18" text-anchor="start" font-weight="normal" textLength="46.5" lengthAdjust="spacingAndGlyphs">5 Sep 2024</text>
<text x="130.3" y="492.2" font-size="9.6" fill="#000" stroke="#000" stroke-width="0.18" text-anchor="start" font-weight="normal" textLength="52" lengthAdjust="spacingAndGlyphs">27 Sep 2024</text>
<text x="194.3" y="492.2" font-size="9.6" fill="#000" stroke="#000" stroke-width="0.18" text-anchor="start" font-weight="normal" textLength="51.3" lengthAdjust="spacingAndGlyphs">21 Oct 2024</text>
<text x="258.3" y="492.2" font-size="9.6" fill="#000" stroke="#000" stroke-width="0.18" text-anchor="start" font-weight="normal" textLength="53.5" lengthAdjust="spacingAndGlyphs">12 Nov 2024</text>
<text x="322.5" y="492.2" font-size="9.6" fill="#000" stroke="#000" stroke-width="0.18" text-anchor="start" font-weight="normal" textLength="46.5" lengthAdjust="spacingAndGlyphs">4 Dec 2024</text>
<text x="386.5" y="492.2" font-size="9.6" fill="#000" stroke="#000" stroke-width="0.18" text-anchor="start" font-weight="normal" textLength="51.8" lengthAdjust="spacingAndGlyphs">27 Dec 2024</text>
<text x="450.5" y="492.2" font-size="9.6" fill="#000" stroke="#000" stroke-width="0.18" text-anchor="start" font-weight="normal" textLength="49.9" lengthAdjust="spacingAndGlyphs">21 Jan 2025</text>
<text x="514.3" y="492.2" font-size="9.6" fill="#000" stroke="#000" stroke-width="0.18" text-anchor="start" font-weight="normal" textLength="52" lengthAdjust="spacingAndGlyphs">12 Feb 2025</text>
<text x="578.3" y="492.2" font-size="9.6" fill="#000" stroke="#000" stroke-width="0.18" text-anchor="start" font-weight="normal" textLength="46.5" lengthAdjust="spacingAndGlyphs">6 Mar 2025</text>
<path d="M5.8,8.8 L13.2,8.8 L9.5,12.8 Z" fill="#000"/>
<text x="18.2" y="13.9" font-size="9.5" fill="#000" stroke="#000" stroke-width="0.18" text-anchor="start" font-weight="normal" textLength="68.6" lengthAdjust="spacingAndGlyphs">UKBRENT,Daily</text>
<text x="8" y="394.6" font-size="9.5" fill="#000" stroke="#000" stroke-width="0.18" text-anchor="start" font-weight="normal" textLength="47.8" lengthAdjust="spacingAndGlyphs">AO -1.1540</text>
<rect x="661" y="243" width="36" height="11" fill="#000" shape-rendering="crispEdges"/>
<text x="665.3" y="252.0" font-size="9.8" fill="#fff" stroke="#fff" stroke-width="0.18" text-anchor="start" font-weight="normal" textLength="27.5" lengthAdjust="spacingAndGlyphs">72.900</text>
<rect x="661" y="258" width="36" height="11" fill="#000" shape-rendering="crispEdges"/>
<text x="665.3" y="267.0" font-size="9.8" fill="#fff" stroke="#fff" stroke-width="0.18" text-anchor="start" font-weight="normal" textLength="27.5" lengthAdjust="spacingAndGlyphs">72.355</text>
<rect x="661" y="274" width="36" height="11" fill="#000" shape-rendering="crispEdges"/>
<text x="665.3" y="283.0" font-size="9.8" fill="#fff" stroke="#fff" stroke-width="0.18" text-anchor="start" font-weight="normal" textLength="27.5" lengthAdjust="spacingAndGlyphs">71.700</text>
<rect x="661" y="160" width="36" height="11" fill="#000" shape-rendering="crispEdges"/>
<text x="665.3" y="169.0" font-size="9.8" fill="#fff" stroke="#fff" stroke-width="0.18" text-anchor="start" font-weight="normal" textLength="27.5" lengthAdjust="spacingAndGlyphs">76.100</text>
<rect x="661" y="356" width="36" height="11" fill="#000" shape-rendering="crispEdges"/>
<text x="665.3" y="365.0" font-size="9.8" fill="#fff" stroke="#fff" stroke-width="0.18" text-anchor="start" font-weight="normal" textLength="27.5" lengthAdjust="spacingAndGlyphs">68.500</text>
<polygon points="0,59.4 659.5,0.4 683.6,270.4 0,331.3" fill="rgba(0,144,255,0.31)"/>
<rect x="3" y="167" width="656" height="82" fill="rgba(0,128,0,0.5)"/>
<rect x="3" y="281" width="656" height="81" fill="rgba(255,0,0,0.33)"/>

<g fill="none" stroke="#06801c" stroke-width="2.5" stroke-dasharray="6.5 3.2">
<path d="M632.8,245.5 L653,179"/></g>
<path d="M655.6,168.6 L647.8,175.6 L658.2,179.4 Z" fill="#06801c"/>
<g fill="none" stroke="#ff1414" stroke-width="2.5" stroke-dasharray="7 3.4">
<path d="M631.3,284.2 L654,352"/></g>
<path d="M657.2,361.6 L649,354 L659.4,351 Z" fill="#ff1414"/>
<ellipse cx="649.5" cy="285.5" rx="11.6" ry="4.8" transform="rotate(-56 649.5 285.5)" fill="rgba(255,120,30,0.6)"/>
<ellipse cx="629.8" cy="434.8" rx="4.3" ry="10.2" fill="rgba(255,120,30,0.5)"/>

</svg></body></html>
